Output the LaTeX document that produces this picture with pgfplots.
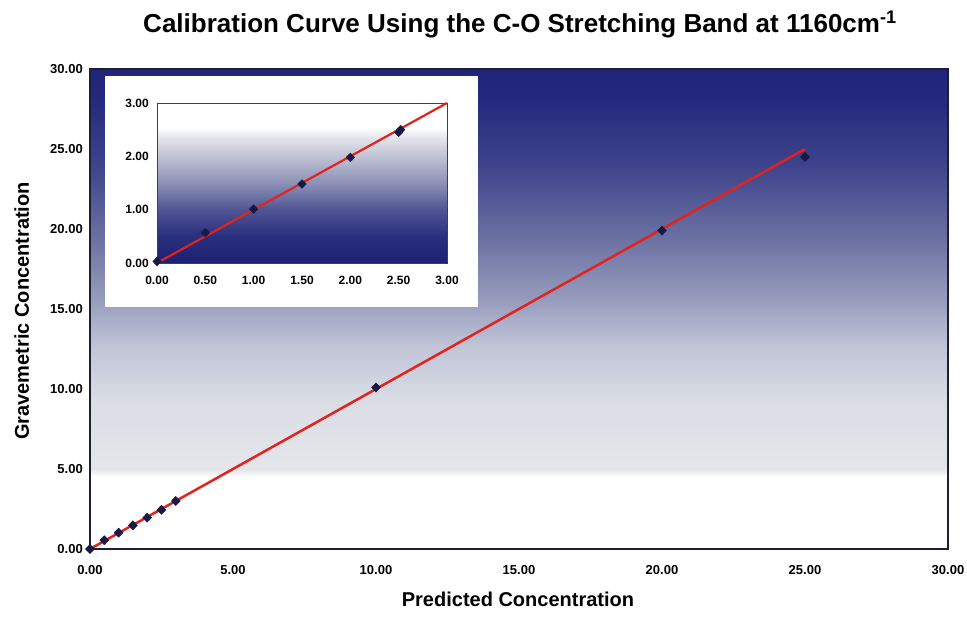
\documentclass[border=0pt]{standalone}
\usepackage{pgfplots}
\pgfplotsset{compat=1.18}
\usepackage{fontspec}
\setmainfont{Liberation Sans}

\definecolor{navyA}{RGB}{32,36,122}
\definecolor{mA}{RGB}{228,230,234}
\definecolor{mB}{RGB}{218,221,228}
\definecolor{mC}{RGB}{192,196,214}
\definecolor{mD}{RGB}{152,157,190}
\definecolor{mE}{RGB}{112,117,165}
\definecolor{mF}{RGB}{62,67,140}
\definecolor{mG}{RGB}{38,42,126}
\definecolor{iA}{RGB}{28,32,115}
\definecolor{iB}{RGB}{42,47,125}
\definecolor{iC}{RGB}{80,85,148}
\definecolor{iD}{RGB}{140,145,182}
\definecolor{iE}{RGB}{192,194,212}
\definecolor{iF}{RGB}{228,229,235}
\definecolor{lineRed}{RGB}{225,35,30}
\definecolor{markC}{RGB}{25,25,70}
\definecolor{frameC}{RGB}{30,30,55}

\pgfdeclareverticalshading{mainbg}{100bp}{color(0bp)=(white); color(32.5bp)=(white); color(33.3bp)=(mA); color(40.5bp)=(mB); color(46.2bp)=(mC); color(50.8bp)=(mD); color(56.7bp)=(mE); color(65bp)=(mF); color(71.7bp)=(mG); color(75bp)=(navyA); color(100bp)=(navyA)}
\pgfdeclareverticalshading{insetbg}{100bp}{color(0bp)=(iA); color(25bp)=(iA); color(33.3bp)=(iB); color(41.7bp)=(iC); color(50bp)=(iD); color(58.3bp)=(iE); color(64.2bp)=(iF); color(67.5bp)=(white); color(100bp)=(white)}

\begin{document}
\begin{tikzpicture}
\useasboundingbox (-90pt,-79pt) rectangle (877pt,549pt);
\begin{axis}[
  at={(0pt,0pt)}, anchor=south west,
  scale only axis, width=858pt, height=480pt,
  xmin=0, xmax=30, ymin=0, ymax=30,
  xtick={0,5,10,15,20,25,30}, ytick={0,5,10,15,20,25,30},
  major tick length=0pt,
  axis background/.style={shade, shading=mainbg},
  axis line style={draw=frameC, line width=1.8pt},
  /pgf/number format/fixed, /pgf/number format/fixed zerofill,
  /pgf/number format/precision=2, /pgf/number format/assume math mode=true,
  ticklabel style={font=\bfseries\fontsize{13}{13}\selectfont},
  xticklabel style={yshift=-13pt},
  yticklabel style={xshift=-3.7pt},
]
\addplot[color=lineRed, line width=2.5pt, no markers] coordinates {(0,0) (25,25)};
\addplot[only marks, mark=diamond*, mark size=4.6pt, mark options={xscale=1.3, fill=markC, draw=markC}] coordinates {
  (0,0) (0.5,0.55) (1,1.02) (1.5,1.48) (2,1.96) (2.5,2.45) (3,3.0) (10,10.1) (20,19.9) (25,24.5)};
\end{axis}

\fill[white] (15pt,242pt) rectangle (388pt,473pt);

\begin{axis}[
  at={(67pt,286pt)}, anchor=south west,
  scale only axis, width=290pt, height=160pt,
  xmin=0, xmax=3, ymin=0, ymax=3,
  xtick={0,0.5,1,1.5,2,2.5,3}, ytick={0,1,2,3},
  major tick length=0pt,
  axis background/.style={shade, shading=insetbg},
  axis line style={draw=black!75, line width=0.9pt},
  /pgf/number format/fixed, /pgf/number format/fixed zerofill,
  /pgf/number format/precision=2, /pgf/number format/assume math mode=true,
  ticklabel style={font=\bfseries\fontsize{12}{12}\selectfont},
  xticklabel style={yshift=-10pt},
  yticklabel style={xshift=-4.7pt},
]
\addplot[color=lineRed, line width=2.2pt, no markers] coordinates {(0,0) (3,3)};
\addplot[only marks, mark=diamond*, mark size=4.4pt, mark options={xscale=1.3, fill=markC, draw=markC}] coordinates {
  (0,0.03) (0.5,0.57) (1,1.01) (1.5,1.48) (2,1.98) (2.5,2.45) (2.52,2.5)};
\end{axis}

\node[anchor=base, font=\bfseries\fontsize{26}{30}\selectfont] at (430pt,516pt)
  {Calibration Curve Using the C-O Stretching Band at 1160cm\textsuperscript{-1}};
\node[anchor=base, font=\bfseries\fontsize{20}{24}\selectfont] at (428pt,-58pt)
  {Predicted Concentration};
\node[anchor=base, rotate=90, font=\bfseries\fontsize{20}{24}\selectfont] at (-61pt,238pt)
  {Gravemetric Concentration};
\end{tikzpicture}
\end{document}
